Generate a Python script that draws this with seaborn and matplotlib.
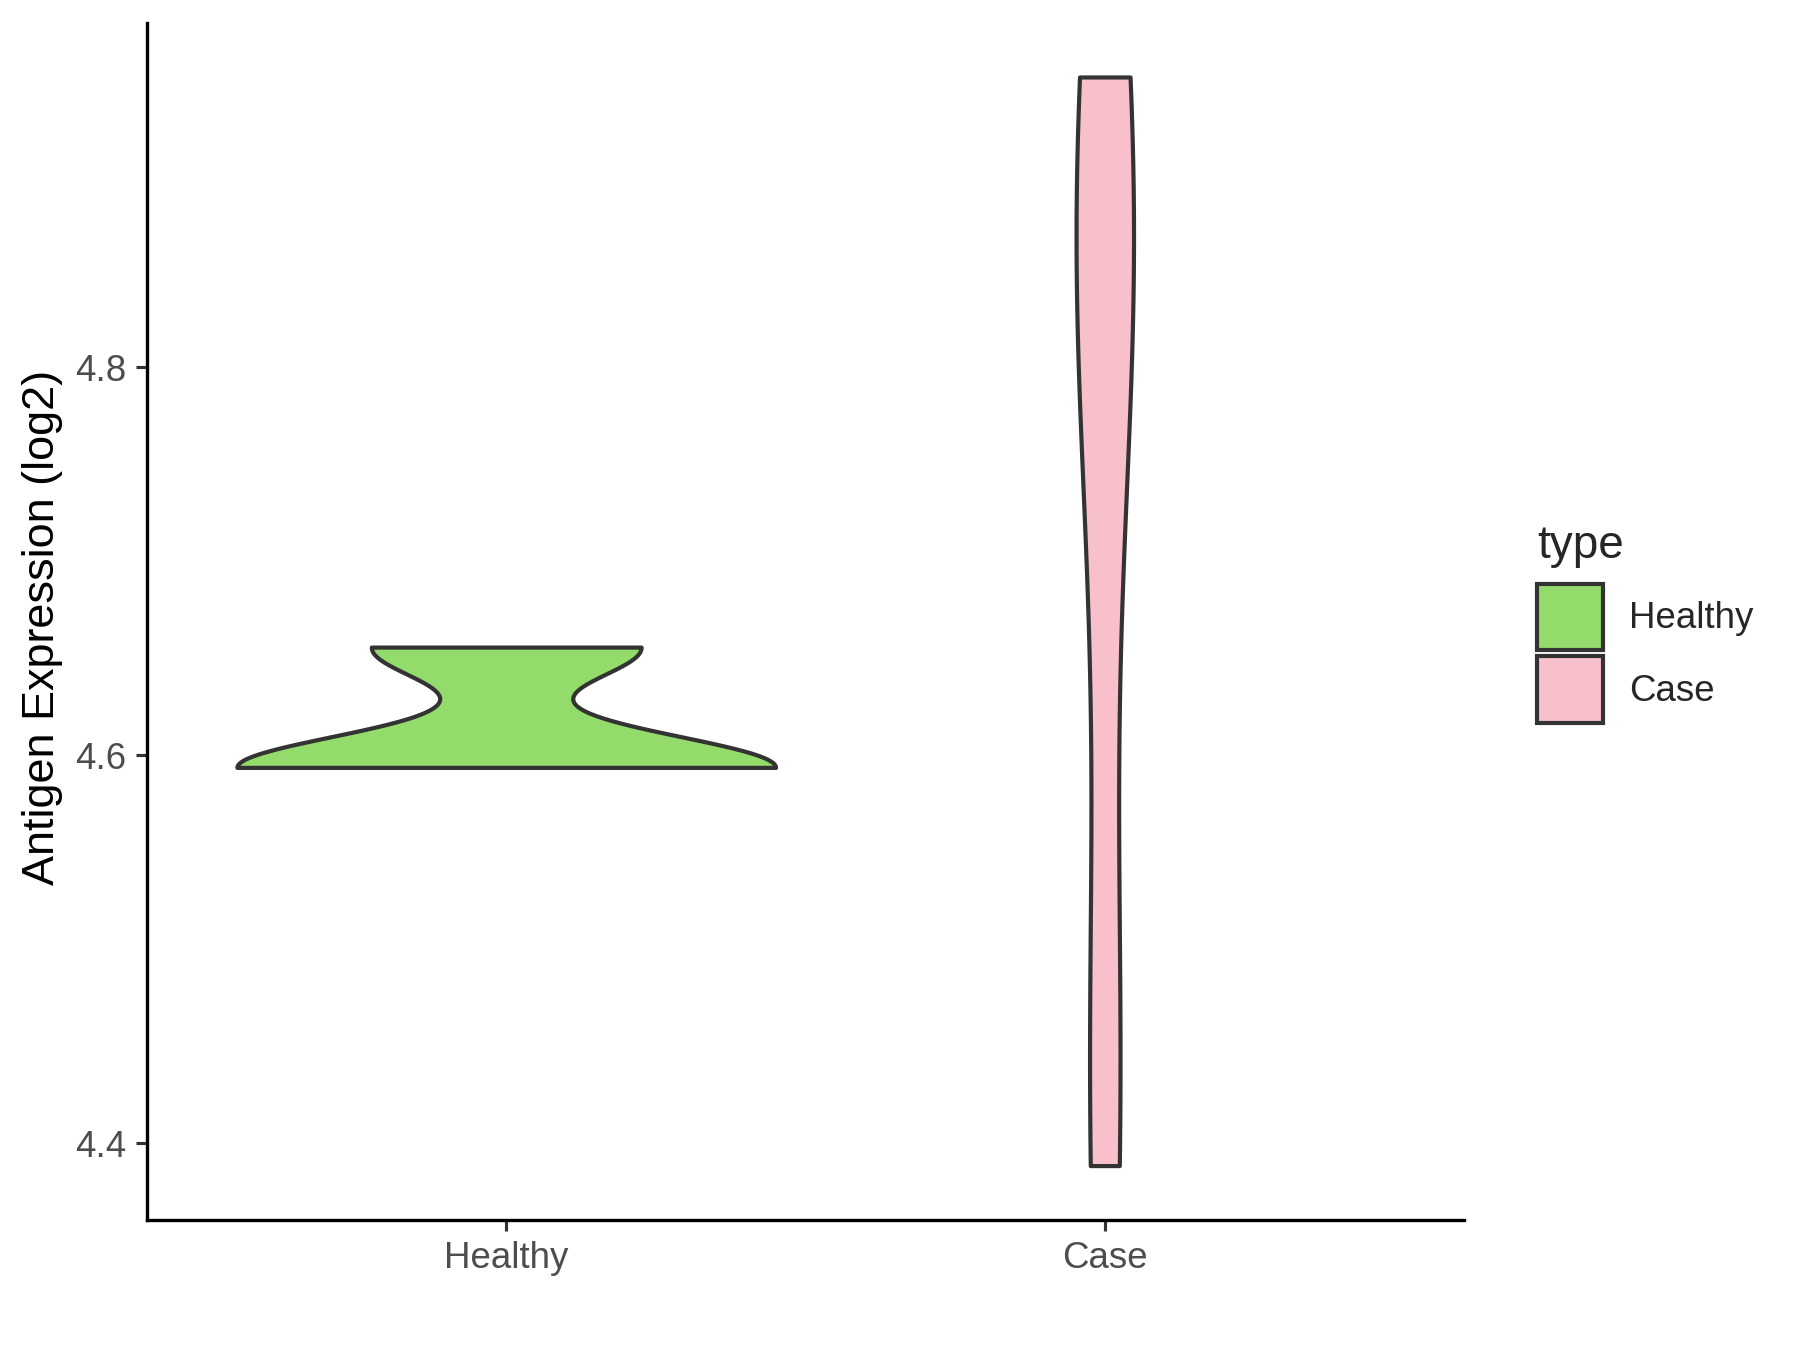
import numpy as np
import pandas as pd
import matplotlib
matplotlib.use("Agg")
import matplotlib.pyplot as plt
from matplotlib.patches import Patch
import seaborn as sns

# ---- data ----
categories = ["Healthy", "Case"]
healthy_values = [4.5937, 4.5937, 4.6557]
case_values = [4.3885, 4.46, 4.81, 4.85, 4.88, 4.9495]
colors = ["#93DB6A", "#F8C0CB"]
y_ticks = [4.4, 4.6, 4.8]
y_tick_labels = ["4.4", "4.6", "4.8"]

df = pd.concat([
    pd.DataFrame({"type": "Healthy", "value": healthy_values}),
    pd.DataFrame({"type": "Case", "value": case_values}),
], ignore_index=True)


def nrd0(kde):
    """Silverman's rule as used by R's density(bw='nrd0')."""
    x = np.asarray(kde.dataset).ravel()
    n = x.size
    sd = np.std(x, ddof=1)
    q75, q25 = np.percentile(x, [75, 25])
    lo = min(sd, (q75 - q25) / 1.34)
    h = 0.9 * lo * n ** -0.2
    return h / sd


sns.set_style("ticks")
plt.rcParams["font.family"] = ["Liberation Sans", "DejaVu Sans"]

fig = plt.figure(figsize=(6, 4.5), dpi=300)
ax = fig.add_axes([0.0817, 0.0963, 0.7316, 0.887])

sns.violinplot(data=df, x="type", y="value", hue="type", order=categories,
               hue_order=categories, palette=colors, saturation=1,
               cut=0, density_norm="area", common_norm=True, bw_method=nrd0,
               inner=None, width=0.9, linewidth=1.0, linecolor="#333333",
               legend=False, ax=ax)

allv = np.array(healthy_values + case_values)
r = allv.max() - allv.min()
ax.set_ylim(allv.min() - 0.05 * r, allv.max() + 0.05 * r)
ax.set_xlim(-0.6, 1.6)
ax.set_yticks(y_ticks)
ax.set_yticklabels(y_tick_labels)

for side in ["top", "right"]:
    ax.spines[side].set_visible(False)
for side in ["left", "bottom"]:
    ax.spines[side].set_color("black")
    ax.spines[side].set_linewidth(0.8)

ax.tick_params(axis="both", length=2.75, width=0.75, color="#333333",
               labelsize=8.8, labelcolor="#4D4D4D", pad=2.2, direction="out")
ax.set_xlabel("")
ax.set_ylabel("Antigen Expression (log2)", fontsize=10.8, color="black")
ax.yaxis.set_label_coords(-0.064, 0.495)

handles = [Patch(facecolor=c, edgecolor="#333333", linewidth=1.0) for c in colors]
leg = fig.legend(handles, categories, title="type", loc="upper left",
                 bbox_to_anchor=(0.854, 0.6122), frameon=False,
                 fontsize=8.8, title_fontsize=11, handlelength=1.8,
                 handleheight=2.42, labelspacing=0.16, handletextpad=0.7,
                 borderpad=0, borderaxespad=0)
leg._legend_box.align = "left"
leg._legend_box.sep = 3.9

fig.savefig("out.png", dpi=300)
